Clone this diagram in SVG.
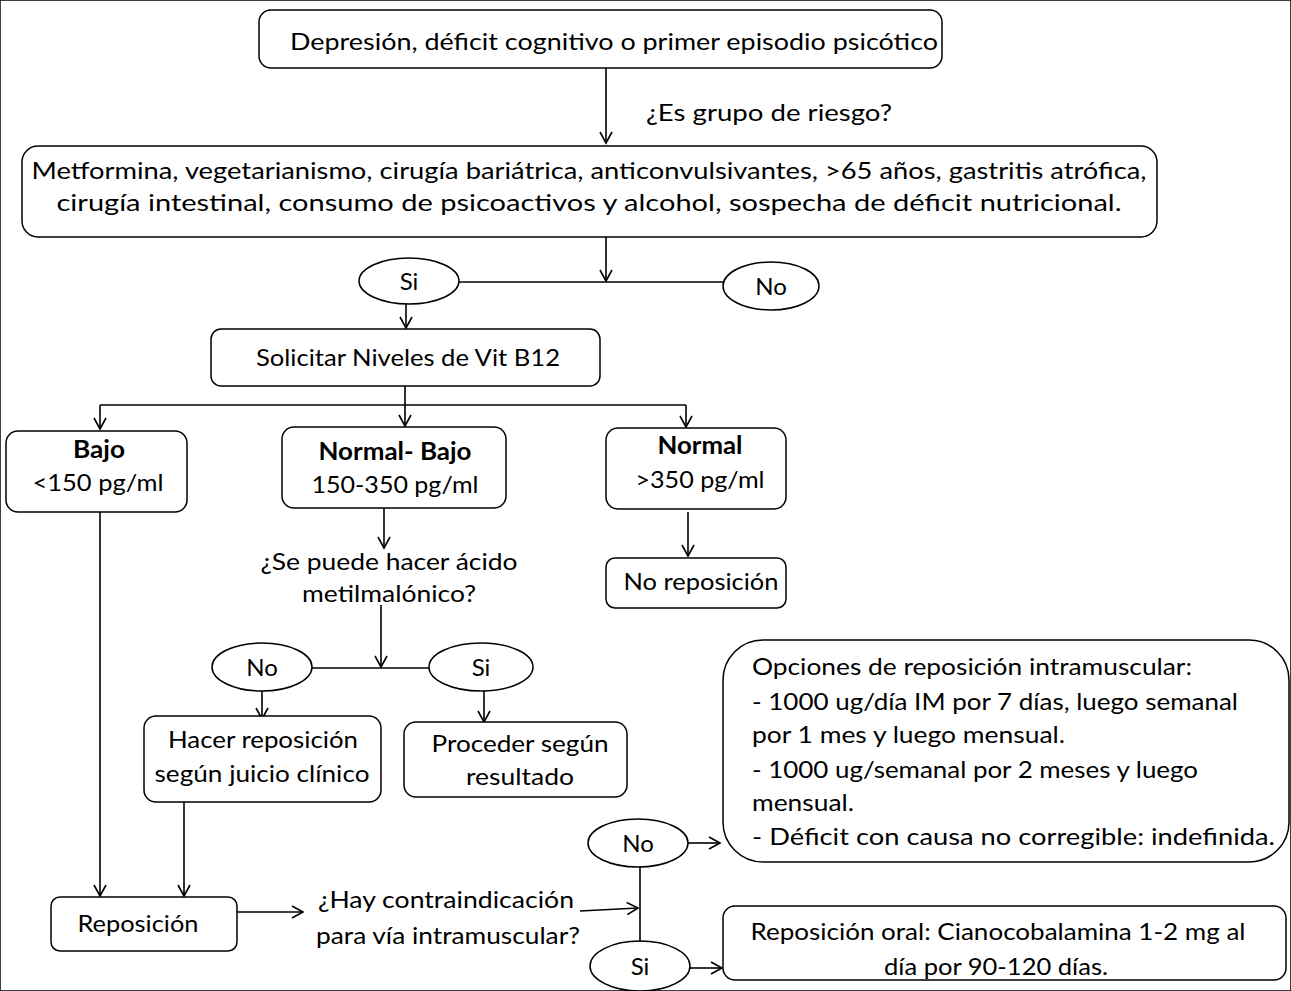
<svg xmlns="http://www.w3.org/2000/svg" width="1291" height="991" viewBox="0 0 1291 991">
<defs>
<marker id="arr" markerUnits="userSpaceOnUse" markerWidth="14" markerHeight="14" refX="12" refY="7" orient="auto">
<path d="M1,1 L12,7 L1,13" fill="none" stroke="#000" stroke-width="1.6"/>
</marker>
</defs>
<style>
text{font-family:Lato,"Liberation Sans",Arial,sans-serif;font-size:24px;fill:#000}
.c{text-anchor:middle}
.b{font-weight:bold}
rect,ellipse{fill:#fff;stroke:#000;stroke-width:1.5}
.ln{fill:none;stroke:#000;stroke-width:1.6}
</style>
<rect width="1291" height="991" fill="#fff" stroke="none"/>
<g id="connectors">
<line class="ln" x1="606" y1="68" x2="606" y2="143" marker-end="url(#arr)"/>
<line class="ln" x1="606" y1="237" x2="606" y2="281" marker-end="url(#arr)"/>
<line class="ln" x1="459" y1="282" x2="723" y2="282"/>
<line class="ln" x1="406" y1="304" x2="406" y2="328" marker-end="url(#arr)"/>
<polyline class="ln" points="405,386 405,405"/>
<line class="ln" x1="100" y1="405" x2="686" y2="405"/>
<line class="ln" x1="100" y1="405" x2="100" y2="429" marker-end="url(#arr)"/>
<line class="ln" x1="405" y1="405" x2="405" y2="426" marker-end="url(#arr)"/>
<line class="ln" x1="686" y1="405" x2="686" y2="427" marker-end="url(#arr)"/>
<line class="ln" x1="384" y1="505" x2="384" y2="548" marker-end="url(#arr)"/>
<line class="ln" x1="688" y1="512" x2="688" y2="556" marker-end="url(#arr)"/>
<line class="ln" x1="381" y1="605" x2="381" y2="667" marker-end="url(#arr)"/>
<line class="ln" x1="312" y1="668" x2="430" y2="668"/>
<line class="ln" x1="262" y1="691" x2="262" y2="719" marker-end="url(#arr)"/>
<line class="ln" x1="484" y1="691" x2="484" y2="722" marker-end="url(#arr)"/>
<line class="ln" x1="100" y1="512" x2="100" y2="896" marker-end="url(#arr)"/>
<line class="ln" x1="184" y1="792" x2="184" y2="896" marker-end="url(#arr)"/>
<line class="ln" x1="237" y1="912" x2="303" y2="912" marker-end="url(#arr)"/>
<line class="ln" x1="580" y1="911" x2="638" y2="908" marker-end="url(#arr)"/>
<line class="ln" x1="640" y1="866" x2="640" y2="941"/>
<line class="ln" x1="688" y1="843" x2="720" y2="843" marker-end="url(#arr)"/>
<line class="ln" x1="690" y1="968" x2="722" y2="968" marker-end="url(#arr)"/>
</g>
<g id="n-start">
<rect x="259" y="10" width="683" height="58" rx="12"/>
<text x="614" y="50" class="c" textLength="648" lengthAdjust="spacingAndGlyphs">Depresión, déficit cognitivo o primer episodio psicótico</text>
</g>
<g id="lbl-riesgo">
<text x="769" y="121" class="c" textLength="246" lengthAdjust="spacingAndGlyphs">¿Es grupo de riesgo?</text>
</g>
<g id="n-riesgo">
<rect x="22" y="146" width="1135" height="91" rx="16"/>
<text x="589" y="179" class="c" textLength="1115" lengthAdjust="spacingAndGlyphs">Metformina, vegetarianismo, cirugía bariátrica, anticonvulsivantes, &gt;65 años, gastritis atrófica,</text>
<text x="589" y="211" class="c" textLength="1065" lengthAdjust="spacingAndGlyphs">cirugía intestinal, consumo de psicoactivos y alcohol, sospecha de déficit nutricional.</text>
</g>
<g id="e-si1">
<ellipse cx="409" cy="281" rx="50" ry="23"/>
<text x="409" y="290" class="c">Si</text>
</g>
<g id="e-no1">
<ellipse cx="771" cy="286" rx="48" ry="24"/>
<text x="771" y="295" class="c">No</text>
</g>
<g id="n-solicitar">
<rect x="211" y="329" width="389" height="57" rx="10"/>
<text x="408" y="366" class="c" textLength="304" lengthAdjust="spacingAndGlyphs">Solicitar Niveles de Vit B12</text>
</g>
<g id="n-bajo">
<rect x="6" y="431" width="181" height="81" rx="12"/>
<text x="99" y="458" class="c b" textLength="52" lengthAdjust="spacingAndGlyphs">Bajo</text>
<text x="98" y="491" class="c" textLength="131" lengthAdjust="spacingAndGlyphs">&lt;150 pg/ml</text>
</g>
<g id="n-normalbajo">
<rect x="282" y="427" width="224" height="81" rx="12"/>
<text x="395" y="460" class="c b" textLength="153" lengthAdjust="spacingAndGlyphs">Normal- Bajo</text>
<text x="395" y="493" class="c" textLength="167" lengthAdjust="spacingAndGlyphs">150-350 pg/ml</text>
</g>
<g id="n-normal">
<rect x="606" y="428" width="180" height="81" rx="12"/>
<text x="700" y="454" class="c b" textLength="85" lengthAdjust="spacingAndGlyphs">Normal</text>
<text x="700" y="488" class="c" textLength="129" lengthAdjust="spacingAndGlyphs">&gt;350 pg/ml</text>
</g>
<g id="lbl-acido">
<text x="389" y="570" class="c" textLength="257" lengthAdjust="spacingAndGlyphs">¿Se puede hacer ácido</text>
<text x="389" y="602" class="c" textLength="174" lengthAdjust="spacingAndGlyphs">metilmalónico?</text>
</g>
<g id="n-noreposicion">
<rect x="606" y="558" width="180" height="50" rx="9"/>
<text x="701" y="590" class="c" textLength="155" lengthAdjust="spacingAndGlyphs">No reposición</text>
</g>
<g id="e-no2">
<ellipse cx="262" cy="667" rx="50" ry="24"/>
<text x="262" y="676" class="c">No</text>
</g>
<g id="e-si2">
<ellipse cx="481" cy="667" rx="52" ry="24"/>
<text x="481" y="676" class="c">Si</text>
</g>
<g id="n-hacer">
<rect x="144" y="716" width="237" height="86" rx="12"/>
<text x="263" y="748" class="c" textLength="190" lengthAdjust="spacingAndGlyphs">Hacer reposición</text>
<text x="262" y="782" class="c" textLength="215" lengthAdjust="spacingAndGlyphs">según juicio clínico</text>
</g>
<g id="n-proceder">
<rect x="404" y="722" width="223" height="75" rx="12"/>
<text x="520" y="752" class="c" textLength="177" lengthAdjust="spacingAndGlyphs">Proceder según</text>
<text x="520" y="785" class="c" textLength="108" lengthAdjust="spacingAndGlyphs">resultado</text>
</g>
<g id="n-reposicion">
<rect x="51" y="897" width="186" height="54" rx="9"/>
<text x="138" y="932" class="c" textLength="121" lengthAdjust="spacingAndGlyphs">Reposición</text>
</g>
<g id="lbl-contra">
<text x="446" y="908" class="c" textLength="256" lengthAdjust="spacingAndGlyphs">¿Hay contraindicación</text>
<text x="448" y="944" class="c" textLength="264" lengthAdjust="spacingAndGlyphs">para vía intramuscular?</text>
</g>
<g id="e-no3">
<ellipse cx="638" cy="843" rx="50" ry="24"/>
<text x="638" y="852" class="c">No</text>
</g>
<g id="e-si3">
<ellipse cx="640" cy="966" rx="50" ry="25"/>
<text x="640" y="975" class="c">Si</text>
</g>
<g id="n-im">
<rect x="723" y="640" width="566" height="222" rx="40"/>
<text x="752" y="675" textLength="440" lengthAdjust="spacingAndGlyphs">Opciones de reposición intramuscular:</text>
<text x="752" y="710" textLength="486" lengthAdjust="spacingAndGlyphs">- 1000 ug/día IM por 7 días, luego semanal</text>
<text x="752" y="743" textLength="313" lengthAdjust="spacingAndGlyphs">por 1 mes y luego mensual.</text>
<text x="752" y="778" textLength="446" lengthAdjust="spacingAndGlyphs">- 1000 ug/semanal por 2 meses y luego</text>
<text x="752" y="811" textLength="102" lengthAdjust="spacingAndGlyphs">mensual.</text>
<text x="752" y="845" textLength="523" lengthAdjust="spacingAndGlyphs">- Déficit con causa no corregible: indefinida.</text>
</g>
<g id="n-oral">
<rect x="723" y="906" width="563" height="74" rx="12"/>
<text x="998" y="940" class="c" textLength="495" lengthAdjust="spacingAndGlyphs">Reposición oral: Cianocobalamina 1-2 mg al</text>
<text x="996" y="975" class="c" textLength="224" lengthAdjust="spacingAndGlyphs">día por 90-120 días.</text>
</g>
</svg>
